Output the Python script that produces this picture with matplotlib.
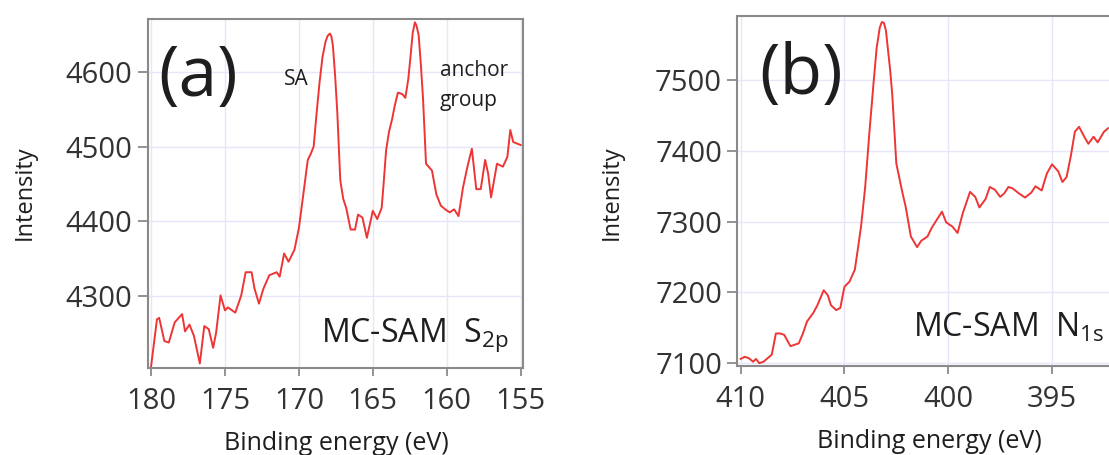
import matplotlib
matplotlib.use("Agg")
import matplotlib.pyplot as plt
import numpy as np

plt.rcParams['font.family'] = ['Open Sans', 'DejaVu Sans']
plt.rcParams['mathtext.fontset'] = 'custom'
plt.rcParams['mathtext.rm'] = 'Open Sans'

# panel (a): S 2p spectrum
s2p_energy = [180.0, 179.6, 179.45, 179.1, 178.8, 178.4, 177.9, 177.7, 177.4, 177.1,
              176.7, 176.4, 176.1, 175.8, 175.6, 175.3, 175.0, 174.8, 174.3, 173.9,
              173.6, 173.2, 173.0, 172.7, 172.4, 172.0, 171.5, 171.3, 171.0, 170.7,
              170.3, 170.0, 169.7, 169.4, 169.2, 169.0, 168.8, 168.6, 168.4, 168.2,
              168.05, 167.9, 167.8, 167.7, 167.55, 167.4, 167.2, 167.0, 166.8, 166.5,
              166.2, 166.0, 165.7, 165.4, 165.0, 164.7, 164.4, 164.25, 164.1, 163.9,
              163.7, 163.5, 163.3, 163.0, 162.8, 162.6, 162.45, 162.3, 162.15, 162.05,
              161.9, 161.75, 161.6, 161.4, 161.0, 160.7, 160.4, 160.1, 159.8, 159.5,
              159.2, 158.9, 158.6, 158.3, 158.0, 157.7, 157.4, 157.2, 157.0, 156.6,
              156.2, 155.9, 155.7, 155.5, 155.0]
s2p_intensity = [4206, 4269, 4271, 4240, 4238, 4265, 4276, 4253, 4262, 4247,
                 4210, 4260, 4256, 4231, 4251, 4301, 4281, 4285, 4278, 4301,
                 4332, 4332, 4310, 4290, 4310, 4328, 4332, 4326, 4357, 4346,
                 4362, 4391, 4436, 4482, 4490, 4500, 4545, 4586, 4620, 4640,
                 4648, 4651, 4647, 4635, 4595, 4545, 4455, 4430, 4418, 4389,
                 4389, 4409, 4405, 4378, 4414, 4403, 4418, 4455, 4495, 4520,
                 4536, 4556, 4572, 4570, 4565, 4590, 4620, 4652, 4666, 4662,
                 4649, 4610, 4563, 4477, 4468, 4436, 4421, 4416, 4412, 4416,
                 4407, 4445, 4473, 4497, 4443, 4443, 4482, 4464, 4432, 4477,
                 4473, 4486, 4522, 4506, 4502]

# panel (b): N 1s spectrum
n1s_energy = [410.0, 409.8, 409.6, 409.4, 409.26, 409.1, 408.9, 408.7, 408.5, 408.3,
              408.1, 407.9, 407.6, 407.4, 407.2, 407.0, 406.8, 406.5, 406.3, 406.0,
              405.8, 405.65, 405.4, 405.2, 405.0, 404.76, 404.5, 404.36, 404.2, 404.0,
              403.8, 403.6, 403.45, 403.3, 403.2, 403.1, 403.0, 402.9, 402.8, 402.7,
              402.5, 402.2, 402.05, 401.8, 401.5, 401.3, 401.0, 400.8, 400.5, 400.3,
              400.1, 399.8, 399.55, 399.3, 398.95, 398.7, 398.5, 398.2, 398.0, 397.75,
              397.5, 397.3, 397.1, 396.9, 396.6, 396.3, 396.0, 395.8, 395.5, 395.25,
              395.0, 394.7, 394.5, 394.3, 394.1, 393.9, 393.7, 393.45, 393.25, 393.0,
              392.8, 392.5, 392.3]
n1s_intensity = [7106, 7109, 7107, 7102, 7106, 7100, 7102, 7107, 7112, 7142,
                 7142, 7140, 7124, 7126, 7128, 7142, 7159, 7171, 7182, 7203,
                 7196, 7182, 7175, 7178, 7208, 7215, 7232, 7260, 7293, 7349,
                 7425, 7495, 7545, 7574, 7582, 7581, 7570, 7542, 7515, 7481,
                 7382, 7340, 7321, 7279, 7264, 7273, 7279, 7291, 7305, 7314,
                 7299, 7293, 7284, 7312, 7342, 7335, 7320, 7332, 7349, 7345,
                 7335, 7340, 7349, 7347, 7340, 7334, 7341, 7350, 7344, 7368,
                 7381, 7371, 7356, 7363, 7392, 7427, 7434, 7420, 7410, 7420,
                 7412, 7427, 7432]

a_xticks = [180, 175, 170, 165, 160, 155]
a_yticks = [4300, 4400, 4500, 4600]
b_xticks = [410, 405, 400, 395]
b_yticks = [7100, 7200, 7300, 7400, 7500]

W, H = 1109, 455
fig = plt.figure(figsize=(W / 100, H / 100), dpi=100)

red = '#ee3535'
frame = '#8a8a8a'
gridc = '#e6e6fb'
tickc = '#333333'


def style(ax, xt, yt):
    for s in ax.spines.values():
        s.set_color(frame)
        s.set_linewidth(1.5)
    ax.set_xticks(xt)
    ax.set_yticks(yt)
    ax.tick_params(direction='out', colors=frame, labelcolor=tickc,
                   labelsize=21, width=1.3)
    ax.tick_params(axis='y', length=7, pad=4)
    ax.tick_params(axis='x', length=6, pad=8)
    ax.grid(True, color=gridc, lw=1.0)
    ax.set_axisbelow(True)


def fx(px):
    return px / W


def fy(py):
    return 1 - py / H


ax1 = fig.add_axes([fx(147.5), fy(368), fx(523) - fx(147.5), fy(19.3) - fy(368)])
ax1.plot(s2p_energy, s2p_intensity, color=red, lw=1.4)
ax1.set_xlim(180.24, 154.84)
ax1.set_ylim(4204, 4670)
style(ax1, a_xticks, a_yticks)

ax2 = fig.add_axes([fx(737.3), fy(366), fx(1160) - fx(737.3), fy(15.7) - fy(366)])
ax2.plot(n1s_energy, n1s_intensity, color=red, lw=1.4)
ax2.set_xlim(410.16, 389.8)
ax2.set_ylim(7096, 7591)
style(ax2, b_xticks, b_yticks)

txt = '#1e1e1e'
fig.text(fx(158), fy(78), '(a)', fontsize=50, color=txt, ha='left', va='center')
fig.text(fx(759), fy(76), '(b)', fontsize=50, color=txt, ha='left', va='center')
fig.text(fx(284), fy(85), 'SA', fontsize=15, color=txt, ha='left', va='baseline')
fig.text(fx(440), fy(76), 'anchor', fontsize=15, color=txt, ha='left', va='baseline')
fig.text(fx(440), fy(106), 'group', fontsize=15, color=txt, ha='left', va='baseline')
fig.text(fx(508), fy(342), r'MC-SAM  S$_{\mathregular{2p}}$', fontsize=23,
         color=txt, ha='right', va='baseline')
fig.text(fx(1104), fy(337), r'MC-SAM  N$_{\mathregular{1s}}$', fontsize=23,
         color=txt, ha='right', va='baseline')

fig.text(fx(25), fy(193), 'Intensity', fontsize=17, color=txt, rotation=90,
         ha='center', va='center')
fig.text(fx(612), fy(193), 'Intensity', fontsize=17, color=txt, rotation=90,
         ha='center', va='center')
fig.text(fx(336), fy(443), 'Binding energy (eV)', fontsize=18, color=txt,
         ha='center', va='center')
fig.text(fx(929), fy(442), 'Binding energy (eV)', fontsize=18, color=txt,
         ha='center', va='center')

fig.savefig('out.png', dpi=100)
